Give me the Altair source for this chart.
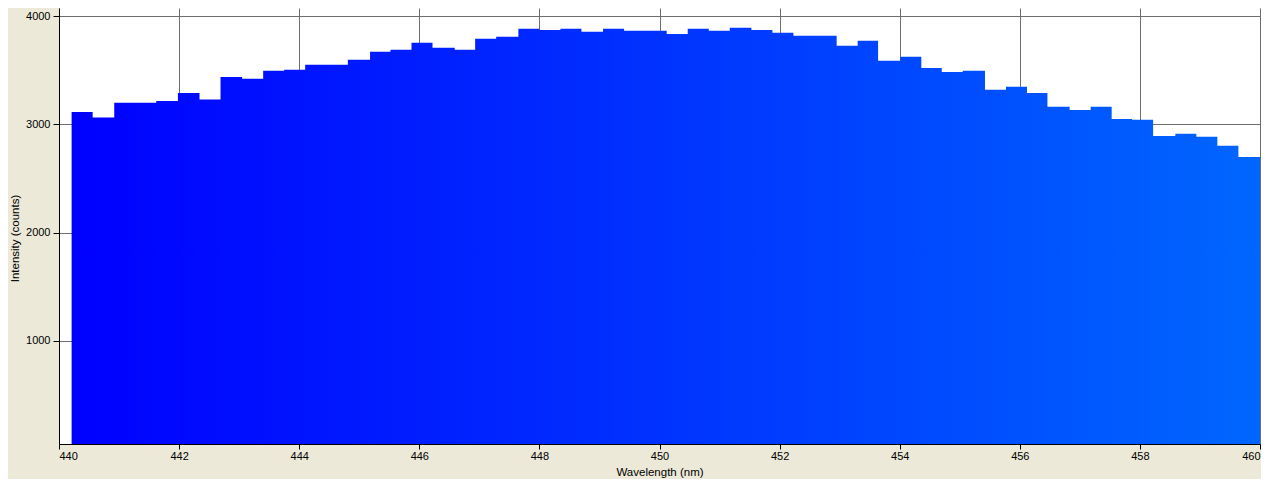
import altair as alt
import pandas as pd

# Bin start wavelengths (nm)
wavelengths = [
    440.21, 440.56, 440.92, 441.27, 441.62, 441.98, 442.34, 442.69, 443.05, 443.40,
    443.75, 444.10, 444.46, 444.81, 445.18, 445.52, 445.87, 446.22, 446.59, 446.93,
    447.28, 447.65, 448.00, 448.35, 448.70, 449.06, 449.41, 449.76, 450.12, 450.47,
    450.82, 451.17, 451.53, 451.88, 452.23, 452.60, 452.95, 453.30, 453.64, 454.01,
    454.36, 454.70, 455.05, 455.42, 455.77, 456.12, 456.46, 456.83, 457.18, 457.53,
    457.87, 458.22, 458.59, 458.94, 459.29, 459.64,
]
end_wavelength = 460.0

# Intensity (counts) per bin
intensities = [
    3114, 3062, 3198, 3198, 3216, 3290, 3228, 3438, 3420, 3494,
    3503, 3549, 3549, 3596, 3670, 3688, 3753, 3707, 3688, 3789,
    3808, 3882, 3872, 3882, 3854, 3882, 3863, 3863, 3835, 3882,
    3863, 3891, 3872, 3845, 3817, 3817, 3725, 3771, 3586, 3623,
    3521, 3484, 3494, 3318, 3346, 3290, 3161, 3133, 3161, 3050,
    3041, 2893, 2912, 2884, 2801, 2699,
]

x_ticks = [440, 442, 444, 446, 448, 450, 452, 454, 456, 458, 460]
y_ticks = [1000, 2000, 3000, 4000]

df = pd.DataFrame({
    "wl": wavelengths + [end_wavelength],
    "counts": intensities + [intensities[-1]],
})

FONT = "Liberation Sans"

gradient = alt.Gradient(
    gradient="linear",
    stops=[
        alt.GradientStop(color="#0000FF", offset=0),
        alt.GradientStop(color="#0066FF", offset=1),
    ],
    x1=0, x2=1, y1=0, y2=0,
)

chart = (
    alt.Chart(df)
    .mark_area(interpolate="step-after", clip=True, color=gradient)
    .encode(
        x=alt.X(
            "wl:Q",
            scale=alt.Scale(domain=[440, 460], nice=False, zero=False),
            axis=alt.Axis(
                values=x_ticks,
                format="d",
                title="Wavelength (nm)",
                labelFlush=True,
                labelBaseline="middle",
                labelPadding=7,
                tickSize=5,
                titleBaseline="middle",
                titleY=28,
            ),
        ),
        y=alt.Y(
            "counts:Q",
            scale=alt.Scale(domain=[48, 4074], nice=False, zero=False),
            axis=alt.Axis(
                values=y_ticks,
                format="d",
                title="Intensity (counts)",
                tickSize=6,
                labelPadding=3,
                titleBaseline="middle",
                titleX=-44,
                titleY=230,
            ),
        ),
    )
    .properties(
        width=1201,
        height=436,
        background="#ECE9D8",
        padding={"left": 51, "top": 0, "right": 1, "bottom": 35},
        autosize=alt.AutoSizeParams(type="none"),
    )
    .configure_view(fill="white", strokeWidth=0)
    .configure_axis(
        labelFont=FONT,
        labelFontSize=11,
        labelColor="black",
        titleFont=FONT,
        titleFontSize=11.5,
        titleFontWeight="normal",
        titleColor="black",
        domainColor="black",
        domainWidth=1,
        tickColor="black",
        tickWidth=1,
        gridColor="#6E6E6E",
        gridWidth=1,
        gridOpacity=1,
    )
)

chart.save("out.html", embed_options={"renderer": "svg", "actions": False})
